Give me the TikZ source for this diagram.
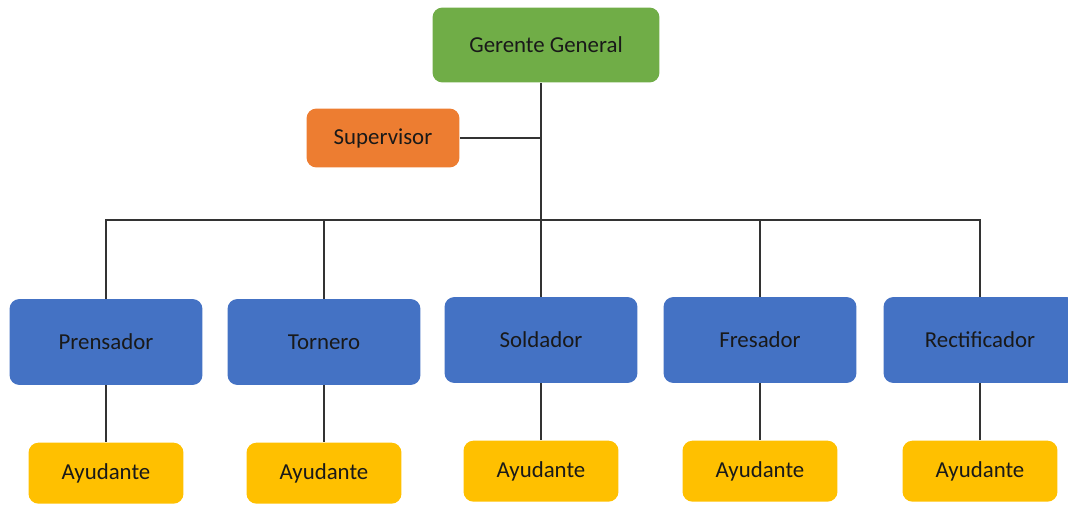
\documentclass[tikz,border=0pt]{standalone}
\usepackage{fontspec}
\setmainfont{Carlito}
\usetikzlibrary{positioning}
\definecolor{gerenteGreen}{HTML}{70AD47}
\definecolor{superOrange}{HTML}{ED7D31}
\definecolor{puestoBlue}{HTML}{4472C4}
\definecolor{ayudaGold}{HTML}{FFC000}
\begin{document}
\begin{tikzpicture}[
        x=0.02cm, y=-0.02cm,
        every node/.style={align=center, font=\fontsize{13}{15}\selectfont, text=black!90},
        caja/.style={rounded corners=2mm, inner sep=0pt},
        gerente/.style={caja, fill=gerenteGreen, minimum width=4.54cm, minimum height=1.5cm},
        supervisor/.style={caja, fill=superOrange, minimum width=3.06cm, minimum height=1.18cm},
        puesto/.style={caja, fill=puestoBlue, minimum width=3.86cm, minimum height=1.72cm},
        ayudante/.style={caja, fill=ayudaGold, minimum width=3.1cm, minimum height=1.22cm},
        linea/.style={draw=black!80, line width=0.6pt},
    ]
    \path[use as bounding box] (0,0) rectangle (1068,504);
    \node[gerente] (gg) at (546,45) {Gerente General};
    \node[supervisor] (sup) at (383,138) {Supervisor};
    \node[puesto] (prensador) at (106,342) {Prensador};
    \node[puesto] (tornero) at (324,342) {Tornero};
    \node[puesto] (soldador) at (541,340) {Soldador};
    \node[puesto] (fresador) at (760,340) {Fresador};
    \node[puesto] (rectificador) at (980,340) {Rectificador};
    \foreach \p in {prensador,tornero,soldador,fresador,rectificador}
        \node[ayudante, below=1.14cm of \p] (ay-\p) {Ayudante};
    \coordinate (bus) at (541,220);
    \draw[linea] (gg.south -| soldador) -- (soldador.north);
    \draw[linea] (sup.east) -- (sup.east -| bus);
    \foreach \p in {prensador,tornero,fresador,rectificador}
        \draw[linea] (\p.north) -- (\p.north |- bus) -- (bus);
    \foreach \p in {prensador,tornero,soldador,fresador,rectificador}
        \draw[linea] (\p.south) -- (ay-\p.north);
\end{tikzpicture}
\end{document}
